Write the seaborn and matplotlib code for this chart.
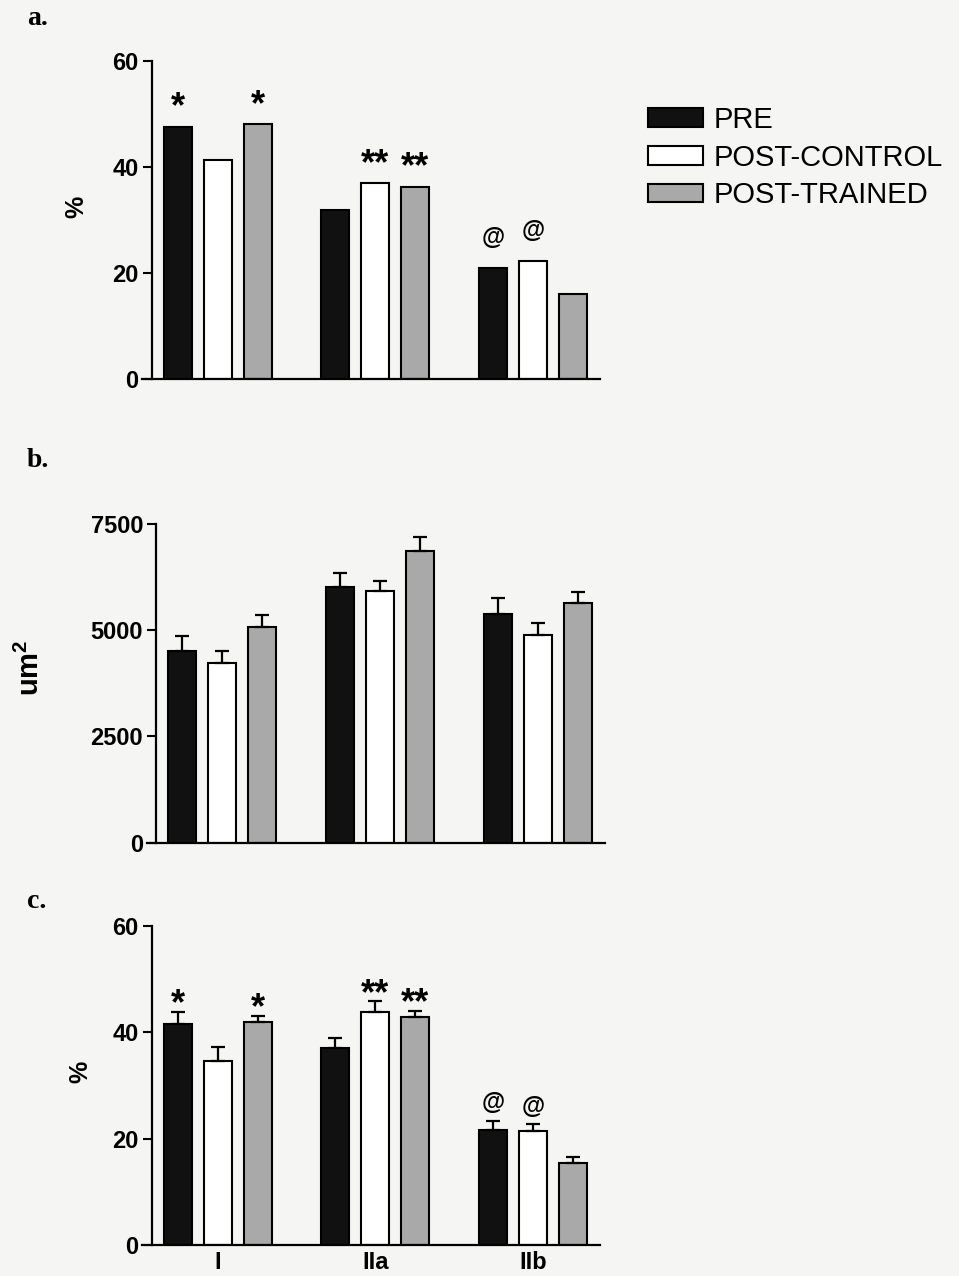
import matplotlib
matplotlib.use("Agg")
import numpy as np
import pandas as pd
import matplotlib.pyplot as plt
import seaborn as sns

# ---------------- data ----------------
fiber_types = ["I", "IIa", "IIb"]
groups = ["PRE", "POST-CONTROL", "POST-TRAINED"]

# panel a: fibre type distribution (%)
a_pre = [47.6, 31.8, 21.0]
a_post_control = [41.3, 36.9, 22.3]
a_post_trained = [48.0, 36.3, 16.1]
a_marks_pre = ["*", "", "@"]
a_marks_post_control = ["", "**", "@"]
a_marks_post_trained = ["*", "**", ""]

# panel b: fibre cross-sectional area (um^2), mean and SEM
b_pre = [4510, 6010, 5380]
b_post_control = [4220, 5930, 4890]
b_post_trained = [5070, 6870, 5640]
b_sem_pre = [350, 345, 385]
b_sem_post_control = [290, 220, 270]
b_sem_post_trained = [290, 315, 250]

# panel c: fibre type area (%), mean and SEM
c_pre = [41.5, 37.0, 21.6]
c_post_control = [34.7, 43.8, 21.4]
c_post_trained = [41.9, 42.8, 15.4]
c_sem_pre = [2.4, 2.0, 1.7]
c_sem_post_control = [2.6, 2.0, 1.3]
c_sem_post_trained = [1.2, 1.2, 1.2]
c_marks_pre = ["*", "", "@"]
c_marks_post_control = ["", "**", "@"]
c_marks_post_trained = ["*", "**", ""]

yticks_pct = [0, 20, 40, 60]
yticks_area = [0, 2500, 5000, 7500]
panel_letters = ["a.", "b.", "c."]

# ---------------- style ----------------
sns.set_theme(style="ticks")
plt.rcParams["font.family"] = ["Liberation Sans", "DejaVu Sans"]
plt.rcParams["mathtext.fontset"] = "custom"
plt.rcParams["mathtext.bf"] = "Liberation Sans:bold"
plt.rcParams["mathtext.rm"] = "Liberation Sans:bold"
plt.rcParams["mathtext.default"] = "bf"
for k in ["text.color", "axes.labelcolor", "xtick.color", "ytick.color",
          "xtick.labelcolor", "ytick.labelcolor", "axes.edgecolor"]:
    plt.rcParams[k] = "black"

BG = "#f5f5f3"
palette = {"PRE": "#111111", "POST-CONTROL": "#ffffff", "POST-TRAINED": "#a9a9a9"}
W, H = 959, 1276
DPI = 100


def long_df(pre, pc, pt):
    rows = []
    for g, vals in zip(groups, [pre, pc, pt]):
        for t, v in zip(fiber_types, vals):
            rows.append({"type": t, "group": g, "value": v})
    return pd.DataFrame(rows)


MARK_FS = {"*": 26, "**": 26, "@": 17}
MARK_CENTER_EM = {"*": 0.57, "**": 0.57, "@": 0.27}


def panel(ax, df, ymax, yticks, sems=None, marks=None, gap_px=20,
          legend=False, xlabels=False):
    sns.barplot(data=df, x="type", y="value", hue="group",
                order=fiber_types, hue_order=groups, palette=palette,
                saturation=1, width=0.76, gap=0.3, edgecolor="black",
                linewidth=1.5, errorbar=None, legend=legend, ax=ax)
    bars = list(ax.containers)
    for i, cont in enumerate(bars):
        for j, p in enumerate(cont.patches):
            x = p.get_x() + p.get_width() / 2
            h = p.get_height()
            top = h
            if sems is not None:
                e = sems[i][j]
                ax.errorbar(x, h, yerr=[[0], [e]], fmt="none", ecolor="black",
                            elinewidth=1.6, capsize=5, capthick=1.6, zorder=3)
                top = h + e
            if marks is not None and marks[i][j]:
                m = marks[i][j]
                fs = MARK_FS[m]
                off = gap_px * 72 / DPI - fs * MARK_CENTER_EM[m]
                ax.annotate(m, xy=(x, top), xytext=(0, off),
                            textcoords="offset points", ha="center",
                            va="baseline", fontsize=fs, fontweight="bold",
                            color="black", annotation_clip=False)
    ax.set_xlabel("")
    ax.set_ylabel("")
    sns.despine(ax=ax)
    ax.spines["left"].set_position(("axes", 0.021))
    for s in ["left", "bottom"]:
        ax.spines[s].set_linewidth(1.6)
        ax.spines[s].set_color("black")
    ax.set_xlim(-0.48, 2.425)
    ax.set_ylim(0, ymax)
    ax.set_yticks(yticks)
    ax.set_yticklabels([str(t) for t in yticks], fontsize=17, fontweight="bold",
                       color="black")
    ax.tick_params(axis="y", length=6.5, width=1.5, pad=3, colors="black")
    ax.tick_params(axis="x", length=0, pad=4)
    ax.set_xticks(range(len(fiber_types)))
    if xlabels:
        ax.set_xticklabels(fiber_types, fontsize=17, fontweight="bold", color="black")
    else:
        ax.set_xticklabels([])
    ax.set_facecolor("none")


fig = plt.figure(figsize=(W / DPI, H / DPI), dpi=DPI, facecolor=BG)


def px_axes(left, top, right, bottom):
    return fig.add_axes([left / W, 1 - bottom / H, (right - left) / W, (bottom - top) / H])


ax_a = px_axes(142, 60.7, 600, 379.3)
ax_b = px_axes(146.7, 524, 605, 842.7)
ax_c = px_axes(142, 926, 600, 1245)

panel(ax_a, long_df(a_pre, a_post_control, a_post_trained), 60, yticks_pct,
      marks=[a_marks_pre, a_marks_post_control, a_marks_post_trained],
      gap_px=30, legend=True)
panel(ax_b, long_df(b_pre, b_post_control, b_post_trained), 7500, yticks_area,
      sems=[b_sem_pre, b_sem_post_control, b_sem_post_trained])
panel(ax_c, long_df(c_pre, c_post_control, c_post_trained), 60, yticks_pct,
      sems=[c_sem_pre, c_sem_post_control, c_sem_post_trained],
      marks=[c_marks_pre, c_marks_post_control, c_marks_post_trained],
      gap_px=18, xlabels=True)

# legend
sns.move_legend(ax_a, "upper left", bbox_to_anchor=((648 - 142) / 458, (379.3 - 106) / 318.6),
                frameon=False, fontsize=21, handlelength=1.9, handleheight=0.6,
                handletextpad=0.35, labelspacing=0.33, borderaxespad=0, borderpad=0)
leg = ax_a.get_legend()
leg.set_title(None)
for hdl in leg.legend_handles:
    hdl.set_edgecolor("black")
    hdl.set_linewidth(1.5)
for t in leg.get_texts():
    t.set_color("black")

# panel letters
for letter, ybase in zip(panel_letters, [25, 467, 908]):
    fig.text(27 / W, 1 - ybase / H, letter, fontsize=20, fontweight="bold",
             family=["Liberation Serif"], ha="left", va="baseline", color="black")

# y labels
fig.text(76 / W, 1 - 207 / H, "%", rotation=90, fontsize=18, fontweight="bold",
         ha="center", va="center")
fig.text(30 / W, 1 - 668 / H, "um$^2$", rotation=90, fontsize=21, fontweight="bold",
         ha="center", va="center")
fig.text(80 / W, 1 - 1072 / H, "%", rotation=90, fontsize=18, fontweight="bold",
         ha="center", va="center")

fig.savefig("out.png", dpi=DPI, facecolor=BG)
